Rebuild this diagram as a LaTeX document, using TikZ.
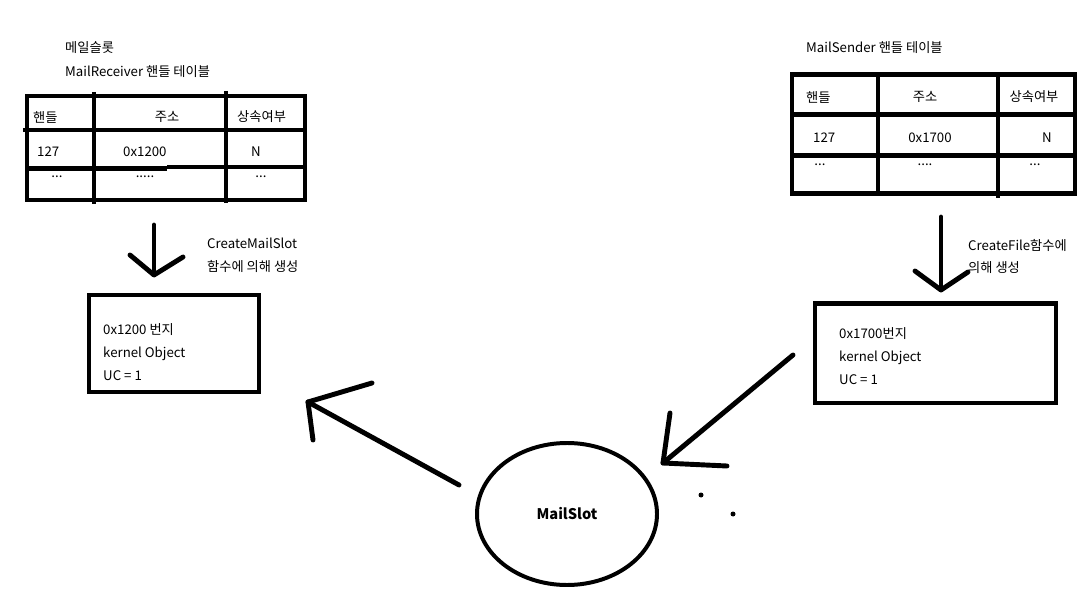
\documentclass[tikz,border=0pt]{standalone}
\usepackage{fontspec}
\setmainfont{Noto Sans CJK KR}
\usetikzlibrary{shapes.geometric}

\begin{document}
\begin{tikzpicture}[x=0.03cm,y=-0.03cm,
  txt/.style={anchor=west,inner sep=0pt,font=\fontsize{11.3}{13}\selectfont},
  ctxt/.style={txt,anchor=center},
  dots/.style={txt,anchor=base},
  tbl/.style={line width=4.2pt},
  arr/.style={line width=4.2pt,line cap=round,line join=round}]
\useasboundingbox (0,0) rectangle (1084,595);

% MailReceiver table
\node[txt] (ltitle1) at (65,48) {메일슬롯};
\node[txt] (ltitle2) at (65,72) {MailReceiver 핸들 테이블};
\draw[tbl] (27,96) rectangle (305,200);
\draw[tbl] (94,92) -- (94,204);
\draw[tbl] (226,91) -- (226,203);
\draw[tbl] (23,130) -- (305,130);
\draw[tbl] (27,168.5) -- (167,168.5);
\draw[tbl] (167,167) -- (305,167);
\node[txt] (lh1) at (33,117) {핸들};
\node[ctxt] (lh2) at (167,117) {주소};
\node[txt] (lh3) at (237,117) {상속여부};
\node[txt] (lr1) at (37,152) {127};
\node[txt] (lr2) at (123,152) {0x1200};
\node[ctxt] (lr3) at (256,152) {N};
\node[dots] (ld1) at (57,178) {...};
\node[dots] (ld2) at (145,178) {.....};
\node[dots] (ld3) at (261,178) {...};

% MailSender table
\node[txt] (rtitle) at (806,48) {MailSender 핸들 테이블};
\draw[tbl] (792,74.5) rectangle (1075,193.5);
\draw[tbl] (878,74.5) -- (878,193.5);
\draw[tbl] (998,74.5) -- (998,198);
\draw[tbl] (792,114.5) -- (1075,114.5);
\draw[tbl] (792,155.5) -- (1075,155.5);
\node[txt] (rh1) at (806,97) {핸들};
\node[ctxt] (rh2) at (925,97) {주소};
\node[ctxt] (rh3) at (1034,97) {상속여부};
\node[txt] (rr1) at (813,138) {127};
\node[ctxt] (rr2) at (930,138) {0x1700};
\node[ctxt] (rr3) at (1047,138) {N};
\node[dots] (rd1) at (820,166) {...};
\node[dots] (rd2) at (925,166) {....};
\node[dots] (rd3) at (1035,166) {...};

% kernel objects
\node[draw,line width=4pt,minimum width=5.1cm,minimum height=2.91cm] (lbox) at (174,343.5) {};
\node[txt,align=left,font=\fontsize{11.3}{19.8}\selectfont] (ltext) at (103,352) {0x1200 번지\\kernel Object\\UC = 1};
\node[draw,line width=4pt,minimum width=7.23cm,minimum height=2.985cm] (rbox) at (935.5,353.25) {};
\node[txt,align=left,font=\fontsize{11.3}{19.8}\selectfont] (rtext) at (839,356) {0x1700번지\\kernel Object\\UC = 1};

\node[draw,ellipse,line width=3.4pt,minimum width=5.4cm,minimum height=4.26cm,
  font=\fontsize{12.5}{15}\selectfont\bfseries] (slot) at (567,514) {MailSlot};

% creation arrows
\coordinate (lfrom) at (154,225);
\coordinate (lto) at (154,275);
\draw[arr] (lfrom) -- (lto);
\draw[arr] (130,255) -- (lto) -- (183,257);
\node[txt] (lnote1) at (207,243) {CreateMailSlot};
\node[txt] (lnote2) at (207,267) {함수에 의해 생성};

\coordinate (rfrom) at (941,217);
\coordinate (rto) at (941,290);
\draw[arr] (rfrom) -- (rto);
\draw[arr] (915,271) -- (rto) -- (968,272);
\node[txt] (rnote1) at (968,245) {CreateFile함수에};
\node[txt] (rnote2) at (968,268) {의해 생성};

% mailslot arrows
\coordinate (sfrom) at (459,485);
\coordinate (sto) at (308,402);
\draw[arr] (sfrom) -- (sto);
\draw[arr] (372,383) -- (sto) -- (313,440);

\coordinate (bfrom) at (793,355);
\coordinate (bto) at (663,463);
\draw[arr] (bfrom) -- (bto);
\draw[arr] (670,413) -- (bto) -- (727,466);

\fill (701,495) circle (2.5);
\fill (733,514) circle (2.5);
\end{tikzpicture}
\end{document}
